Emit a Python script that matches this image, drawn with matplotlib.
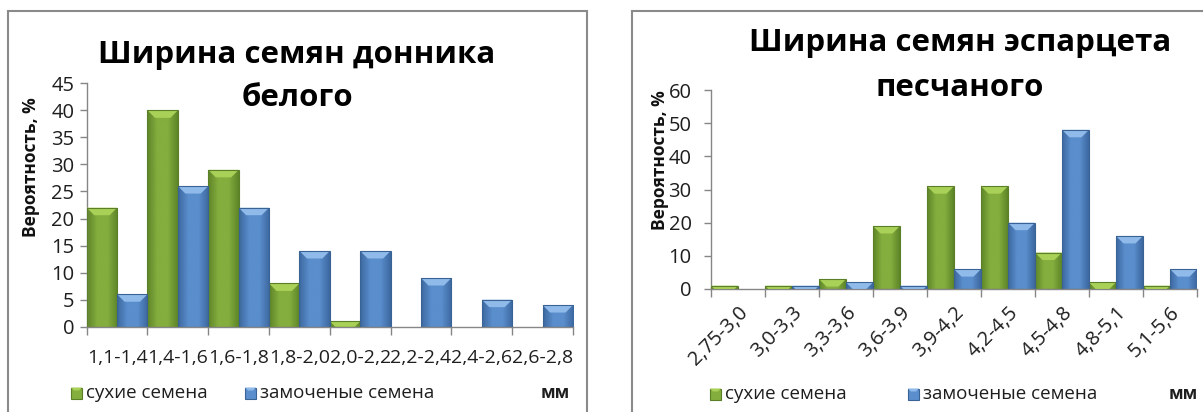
import numpy as np
import matplotlib
matplotlib.use("Agg")
import matplotlib.pyplot as plt
from matplotlib.patches import Rectangle, Polygon
from matplotlib.colors import LinearSegmentedColormap

plt.rcParams['font.family'] = ['Open Sans', 'DejaVu Sans']

# ---- data -------------------------------------------------------------
left_categories = ["1,1-1,4", "1,4-1,6", "1,6-1,8", "1,8-2,0",
                   "2,0-2,2", "2,2-2,4", "2,4-2,6", "2,6-2,8"]
left_dry = [22, 40, 29, 8, 1, 0, 0, 0]
left_soaked = [6, 26, 22, 14, 14, 9, 5, 4]

right_categories = ["2,75-3,0", "3,0-3,3", "3,3-3,6", "3,6-3,9", "3,9-4,2",
                    "4,2-4,5", "4,5-4,8", "4,8-5,1", "5,1-5,6"]
right_dry = [1, 1, 3, 19, 31, 31, 11, 2, 1]
right_soaked = [0, 1, 2, 1, 6, 20, 48, 16, 6]

series_labels = ["сухие семена", "замоченые семена"]
left_title = ["Ширина семян донника", "белого"]
right_title = ["Ширина семян эспарцета", "песчаного"]
y_label = "Вероятность, %"
unit_label = "мм"

# ---- styling ----------------------------------------------------------
W, H = 1203, 412
DPI = 100
GREEN = dict(edge="#5B7F26", dark="#5E8528", mid="#84AE3E", top="#A9D157")
BLUE = dict(edge="#3A6395", dark="#3D68A0", mid="#5A8ECC", top="#8FBAEA")
AXIS_GREY = "#868686"
FRAME_GREY = "#8A8A8A"
TEXT = "#1E1E1E"
TICK_SIZE = 14


def fx(px):
    return px / W


def fy(py):
    return 1 - py / H


fig = plt.figure(figsize=(W / DPI, H / DPI), dpi=DPI)
fig.patch.set_facecolor("white")


def shade_bars(ax, bars, style):
    """Give each bar a horizontal gradient body and a light bevelled top."""
    cmap = LinearSegmentedColormap.from_list(
        "g", [style["dark"], style["mid"], style["mid"], style["dark"]])
    grad = np.linspace(0, 1, 64).reshape(1, -1)
    inv = ax.transData.inverted()
    for bar in bars:
        h = bar.get_height()
        if h <= 0:
            bar.set_visible(False)
            continue
        x0 = bar.get_x()
        x1 = x0 + bar.get_width()
        im = ax.imshow(grad, extent=[x0, x1, 0, h], aspect="auto",
                       cmap=cmap, zorder=2, interpolation="bilinear")
        im.set_clip_path(bar)
        # bevel in display pixels
        (px0, py0) = ax.transData.transform((x0, 0))
        (px1, py1) = ax.transData.transform((x1, h))
        d = min(7.5, py1 - py0)
        pts = [(px0, py1), (px1, py1), (px1 - d, py1 - d), (px0 + d, py1 - d)]
        pts = inv.transform(pts)
        ax.add_patch(Polygon(pts, closed=True, facecolor=style["top"],
                             edgecolor="none", zorder=3))
        ax.add_patch(Rectangle((x0, 0), x1 - x0, h, facecolor="none",
                               edgecolor=style["edge"], linewidth=0.8,
                               zorder=4))


def build_panel(rect, cats, dry, soaked, ymax, ystep, ypad, rotate):
    ax = fig.add_axes(rect)
    n = len(cats)
    idx = np.arange(n)
    ax.set_xlim(0, n)
    ax.set_ylim(0, ymax)
    b1 = ax.bar(idx + 0.25, dry, width=0.5, color=GREEN["mid"],
                edgecolor="none", zorder=1)
    b2 = ax.bar(idx + 0.75, soaked, width=0.5, color=BLUE["mid"],
                edgecolor="none", zorder=1)
    shade_bars(ax, b1, GREEN)
    shade_bars(ax, b2, BLUE)
    ax.set_xlim(0, n)
    ax.set_ylim(0, ymax)

    for s in ("top", "right"):
        ax.spines[s].set_visible(False)
    for s in ("left", "bottom"):
        ax.spines[s].set_color(AXIS_GREY)
        ax.spines[s].set_linewidth(1.0)

    ax.set_yticks(np.arange(0, ymax + 0.1, ystep))
    ax.tick_params(axis="y", colors=AXIS_GREY, length=5, width=1,
                   labelcolor=TEXT, labelsize=14.5, pad=ypad)

    # tick marks on category boundaries, labels at category centres
    ax.set_xticks(np.arange(0, n + 1))
    ax.set_xticklabels([])
    ax.tick_params(axis="x", which="major", colors=AXIS_GREY, length=6,
                   width=1)
    if rotate:
        ax.set_xticks(idx + 0.5, cats, minor=True, rotation=45,
                      ha="right", rotation_mode="anchor")
        ax.tick_params(axis="x", which="minor", length=0, pad=10,
                       labelsize=14.5, labelcolor=TEXT)
    else:
        ax.set_xticks(idx + 0.5, cats, minor=True)
        ax.tick_params(axis="x", which="minor", length=0, pad=16,
                       labelsize=TICK_SIZE, labelcolor=TEXT)
    ax.set_facecolor("none")
    return ax


# left panel
ax_l = build_panel([fx(86.7), fy(326.7), fx(573) - fx(86.7),
                    fy(83.3) - fy(326.7)],
                   left_categories, left_dry, left_soaked, 45, 5, 4, False)
# right panel
ax_r = build_panel([fx(711), fy(289), fx(1197) - fx(711),
                    fy(90) - fy(289)],
                   right_categories, right_dry, right_soaked, 60, 10, 9, True)

# outer frames of the two chart areas
fig.add_artist(Rectangle((fx(8), -0.2), fx(587) - fx(8), fy(11) + 0.2,
                         transform=fig.transFigure, facecolor="none",
                         edgecolor=FRAME_GREY, linewidth=1.5, zorder=0))
fig.add_artist(Rectangle((fx(631.5), -0.2), 0.6, fy(11) + 0.2,
                         transform=fig.transFigure, facecolor="none",
                         edgecolor=FRAME_GREY, linewidth=1.5, zorder=0))

# titles
for (cx, y1, y2, lines) in ((297, 55, 98, left_title),
                            (960, 43, 88, right_title)):
    fig.text(fx(cx), fy(y1), lines[0], ha="center", va="center",
             fontsize=22.5, fontweight="bold", color="black")
    fig.text(fx(cx), fy(y2), lines[1], ha="center", va="center",
             fontsize=22.5, fontweight="bold", color="black")

# y-axis titles
fig.text(fx(30.6), fy(167), y_label, rotation=90, ha="center", va="center",
         fontsize=12.5, fontweight="bold", color="#111111")
fig.text(fx(660), fy(160), y_label, rotation=90, ha="center", va="center",
         fontsize=12.5, fontweight="bold", color="#111111")


# legends and unit captions
def legend_row(x_g, x_b, y, x_unit):
    for xs, style, label in ((x_g, GREEN, series_labels[0]),
                             (x_b, BLUE, series_labels[1])):
        fig.add_artist(Rectangle((fx(xs), fy(y + 5.5)), 11 / W, 11 / H,
                                 transform=fig.transFigure,
                                 facecolor=style["mid"],
                                 edgecolor=style["edge"], linewidth=0.8))
        fig.add_artist(Polygon([(fx(xs), fy(y - 5.5)),
                                (fx(xs + 11), fy(y - 5.5)),
                                (fx(xs + 8), fy(y - 2.5)),
                                (fx(xs + 3), fy(y - 2.5))],
                               transform=fig.transFigure,
                               facecolor=style["top"], edgecolor="none"))
        fig.text(fx(xs + 15), fy(y), label, ha="left", va="center",
                 fontsize=13.5, color=TEXT)
    fig.text(fx(x_unit), fy(y), unit_label, ha="right", va="center",
             fontsize=12.5, fontweight="bold", color=TEXT)


legend_row(71, 245, 393, 570)
legend_row(710, 908, 394, 1198)

fig.savefig("out.png", dpi=DPI)
